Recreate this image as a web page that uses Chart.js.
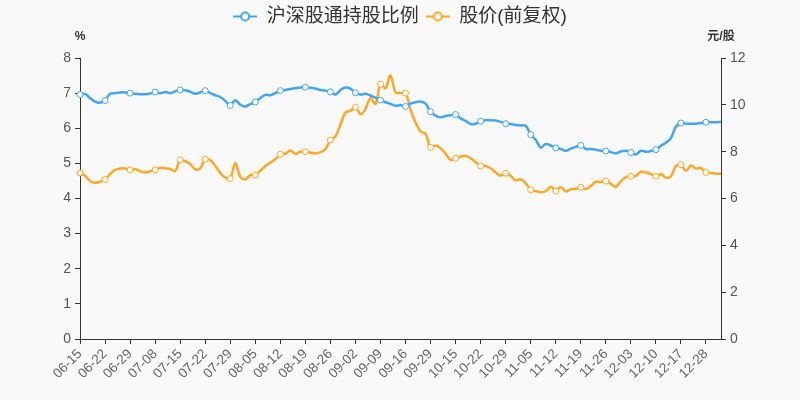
<!DOCTYPE html>
<html>
<head>
<meta charset="utf-8">
<script src="https://cdn.jsdelivr.net/npm/chart.js@4.4.0/dist/chart.umd.min.js"></script>
<style>
  html, body { margin: 0; padding: 0; background: #f9f9f9; }
  #wrap { width: 800px; height: 400px; }
</style>
</head>
<body>
<div id="wrap"><canvas id="chart" width="800" height="400"></canvas></div>
<script>
// trading days (every 5th one is labelled on the axis)
const dates = [
    '06-15', '06-16', '06-17', '06-18', '06-21',
    '06-22', '06-23', '06-24', '06-25', '06-28',
    '06-29', '06-30', '07-05', '07-06', '07-07',
    '07-08', '07-09', '07-12', '07-13', '07-14',
    '07-15', '07-16', '07-19', '07-20', '07-21',
    '07-22', '07-23', '07-26', '07-27', '07-28',
    '07-29', '07-30', '08-02', '08-03', '08-04',
    '08-05', '08-06', '08-09', '08-10', '08-11',
    '08-12', '08-13', '08-16', '08-17', '08-18',
    '08-19', '08-20', '08-23', '08-24', '08-25',
    '08-26', '08-27', '08-30', '08-31', '09-01',
    '09-02', '09-03', '09-06', '09-07', '09-08',
    '09-09', '09-10', '09-13', '09-14', '09-15',
    '09-16', '09-17', '09-24', '09-27', '09-28',
    '09-29', '09-30', '10-08', '10-11', '10-12',
    '10-15', '10-18', '10-19', '10-20', '10-21',
    '10-22', '10-25', '10-26', '10-27', '10-28',
    '10-29', '11-01', '11-02', '11-03', '11-04',
    '11-05', '11-08', '11-09', '11-10', '11-11',
    '11-12', '11-15', '11-16', '11-17', '11-18',
    '11-19', '11-22', '11-23', '11-24', '11-25',
    '11-26', '11-29', '11-30', '12-01', '12-02',
    '12-03', '12-06', '12-07', '12-08', '12-09',
    '12-10', '12-13', '12-14', '12-15', '12-16',
    '12-17', '12-20', '12-21', '12-22', '12-23',
    '12-28', '12-29', '12-30', '12-31'
];

// 沪深股通持股比例 (%)
const holdRatio = [
    6.96, 6.98, 6.86, 6.76, 6.73, 6.79, 6.98, 7.00, 7.02, 7.02,
    7.00, 6.98, 6.97, 6.97, 6.99, 7.03, 7.00, 7.03, 7.00, 7.05,
    7.09, 7.08, 7.04, 6.98, 7.02, 7.07, 7.00, 6.94, 6.89, 6.78,
    6.65, 6.80, 6.67, 6.62, 6.69, 6.75, 6.86, 6.95, 6.94, 7.00,
    7.07, 7.09, 7.12, 7.14, 7.16, 7.17, 7.15, 7.13, 7.09, 7.07,
    7.04, 6.96, 7.09, 7.16, 7.13, 7.01, 6.96, 6.98, 6.93, 6.87,
    6.80, 6.74, 6.69, 6.64, 6.66, 6.62, 6.70, 6.74, 6.76, 6.70,
    6.47, 6.36, 6.31, 6.35, 6.37, 6.39, 6.28, 6.21, 6.12, 6.13,
    6.20, 6.23, 6.23, 6.22, 6.18, 6.13, 6.12, 6.09, 6.08, 6.07,
    5.82, 5.67, 5.45, 5.55, 5.51, 5.44, 5.41, 5.36, 5.42, 5.47,
    5.51, 5.41, 5.41, 5.39, 5.36, 5.35, 5.32, 5.29, 5.34, 5.36,
    5.31, 5.25, 5.36, 5.33, 5.35, 5.39, 5.50, 5.59, 5.72, 6.05,
    6.15, 6.13, 6.13, 6.13, 6.15, 6.17, 6.17, 6.17, 6.18
];

// 股价(前复权) (元/股)
const price = [
    7.09, 6.97, 6.75, 6.67, 6.72, 6.81, 7.04, 7.22, 7.28, 7.28,
    7.22, 7.25, 7.17, 7.11, 7.17, 7.22, 7.31, 7.29, 7.26, 7.17,
    7.65, 7.59, 7.47, 7.25, 7.29, 7.68, 7.64, 7.39, 7.09, 6.89,
    6.85, 7.52, 6.92, 6.81, 7.00, 7.00, 7.19, 7.39, 7.53, 7.68,
    7.89, 7.91, 8.05, 7.91, 8.00, 8.00, 7.96, 7.92, 7.98, 8.11,
    8.50, 8.65, 9.15, 9.67, 9.74, 9.90, 9.60, 9.82, 10.29, 10.04,
    10.88, 10.71, 11.25, 10.53, 10.51, 10.50, 9.79, 9.24, 8.86, 8.76,
    8.18, 8.26, 8.15, 7.91, 7.65, 7.72, 7.79, 7.82, 7.72, 7.55,
    7.39, 7.39, 7.29, 7.11, 6.98, 7.08, 6.97, 6.77, 6.82, 6.65,
    6.37, 6.32, 6.27, 6.31, 6.50, 6.32, 6.48, 6.30, 6.40, 6.40,
    6.48, 6.40, 6.54, 6.72, 6.71, 6.74, 6.62, 6.50, 6.74, 6.91,
    6.95, 6.97, 7.15, 7.11, 7.04, 6.95, 7.04, 6.89, 6.95, 7.39,
    7.44, 7.18, 7.41, 7.28, 7.31, 7.11, 7.09, 7.06, 7.06
];

const BLUE = '#42a5f5';
const ORANGE = '#ffa726';
const AXIS = '#333';
const FONT = "'Liberation Sans', 'Noto Sans CJK SC', sans-serif";

// legend icon: short line with a hollow circle
function legendIcon(color) {
    const c = document.createElement('canvas');
    c.width = 24; c.height = 12;
    const g = c.getContext('2d');
    g.strokeStyle = color;
    g.lineWidth = 2;
    g.beginPath(); g.moveTo(0, 6); g.lineTo(24, 6); g.stroke();
    g.fillStyle = '#fff';
    g.beginPath(); g.arc(12, 6, 4, 0, Math.PI * 2); g.fill(); g.stroke();
    return c;
}
const icons = [legendIcon(BLUE), legendIcon(ORANGE)];

// give the legend box some extra room below the items
const legendSpace = {
    id: 'legendSpace',
    afterInit(chart) {
        const legend = chart.legend;
        const fit = legend.fit;
        legend.fit = function () {
            fit.call(this);
            this.height += 22;
        };
    }
};

// unit names above the two y axes
const axisNames = {
    id: 'axisNames',
    afterDraw(chart) {
        const { ctx, chartArea } = chart;
        ctx.save();
        ctx.fillStyle = AXIS;
        ctx.font = 'bold 12px ' + FONT;
        ctx.textAlign = 'center';
        ctx.textBaseline = 'middle';
        ctx.fillText('%', chart.scales.y.right, chartArea.top - 21);
        ctx.fillText('元/股', chart.scales.y1.left, chartArea.top - 21);
        ctx.restore();
    }
};

const marker = ctx => (ctx.dataIndex % 5 === 0 ? 3 : 0);

new Chart(document.getElementById('chart'), {
    type: 'line',
    data: {
        labels: dates,
        datasets: [{
            label: '沪深股通持股比例',
            data: holdRatio,
            yAxisID: 'y',
            borderColor: BLUE,
            borderWidth: 2.5,
            tension: 0.35,
            pointRadius: marker,
            pointBackgroundColor: '#fff',
            pointBorderColor: BLUE,
            pointBorderWidth: 1,
            clip: false
        }, {
            label: '股价(前复权)',
            data: price,
            yAxisID: 'y1',
            borderColor: ORANGE,
            borderWidth: 2.5,
            tension: 0.35,
            pointRadius: marker,
            pointBackgroundColor: '#fff',
            pointBorderColor: ORANGE,
            pointBorderWidth: 1,
            clip: false
        }]
    },
    options: {
        responsive: false,
        animation: false,
        layout: { padding: 0 },
        plugins: {
            tooltip: { enabled: false },
            legend: {
                position: 'top',
                labels: {
                    usePointStyle: true,
                    pointStyleWidth: 24,
                    padding: 7,
                    color: '#333',
                    font: { size: 19, family: FONT },
                    generateLabels(chart) {
                        const items = Chart.defaults.plugins.legend.labels.generateLabels(chart);
                        items.forEach((it, i) => { it.pointStyle = icons[i]; });
                        return items;
                    }
                }
            }
        },
        scales: {
            x: {
                offset: false,
                afterFit: s => { s.height = 61; },
                border: { color: AXIS, width: 1 },
                grid: {
                    drawOnChartArea: false,
                    tickLength: 5,
                    color: ctx => (ctx.index % 5 === 0 ? AXIS : 'rgba(0,0,0,0)')
                },
                ticks: {
                    autoSkip: false,
                    maxRotation: 45,
                    minRotation: 45,
                    color: '#666',
                    padding: 2,
                    font: { size: 13.5, family: FONT },
                    callback: (v, i) => (i % 5 === 0 ? dates[i] : '')
                }
            },
            y: {
                position: 'left',
                min: 0,
                max: 8,
                afterFit: s => { s.width = 80; },
                border: { color: AXIS, width: 1 },
                grid: { drawOnChartArea: false, tickLength: 5, color: AXIS },
                ticks: { stepSize: 1, color: '#555', padding: 4, font: { size: 14, family: FONT } }
            },
            y1: {
                position: 'right',
                min: 0,
                max: 12,
                afterFit: s => { s.width = 79; },
                border: { color: AXIS, width: 1 },
                grid: { drawOnChartArea: false, tickLength: 5, color: AXIS },
                ticks: { stepSize: 2, color: '#555', padding: 4, font: { size: 14, family: FONT } }
            }
        }
    },
    plugins: [legendSpace, axisNames]
});
</script>
</body>
</html>
